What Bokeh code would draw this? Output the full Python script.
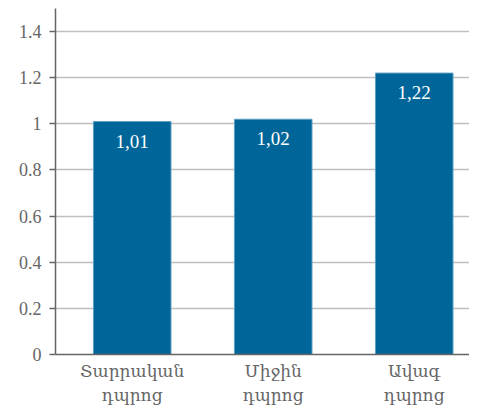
from bokeh.plotting import figure
from bokeh.models import ColumnDataSource, Range1d, FixedTicker, LabelSet
from bokeh.embed import file_html
from bokeh.resources import INLINE

categories = ["Տարրական\nդպրոց", "Միջին\nդպրոց", "Ավագ\nդպրոց"]
values = [1.01, 1.02, 1.22]
value_labels = ["1,01", "1,02", "1,22"]
y_ticks = [0, 0.2, 0.4, 0.6, 0.8, 1, 1.2, 1.4]
y_tick_labels = ["0", "0.2", "0.4", "0.6", "0.8", "1", "1.2", "1.4"]

xs = list(range(len(categories)))
src = ColumnDataSource(dict(x=xs, top=values, lab=value_labels))

FONT = "Liberation Serif, DejaVu Serif"
AFONT = "DejaVu Serif"
GRAY = "#666666"

p = figure(width=469, height=407, output_backend="svg", toolbar_location=None,
           x_range=Range1d(-0.544, 2.392), y_range=Range1d(0, 1.5),
           min_border_left=55, min_border_right=0, min_border_top=8, min_border_bottom=49)
p.outline_line_color = None
p.background_fill_color = "white"

p.vbar(x="x", top="top", width=0.55, source=src, fill_color="#006699",
       line_color="#5d9ec2", line_width=1)

p.add_layout(LabelSet(x="x", y="top", text="lab", source=src, text_color="white",
                      text_align="center", text_baseline="top", y_offset=-13,
                      text_font=FONT, text_font_size="19px"))

p.xgrid.grid_line_color = None
p.ygrid.grid_line_color = "#bfbfbf"
p.ygrid.grid_line_width = 1.5
p.ygrid.ticker = FixedTicker(ticks=y_ticks)

p.yaxis.ticker = FixedTicker(ticks=y_ticks)
p.yaxis.major_label_overrides = {t: l for t, l in zip(y_ticks, y_tick_labels)}
p.yaxis.axis_line_color = "#666666"
p.yaxis.axis_line_width = 1.5
p.yaxis.major_tick_line_color = "#666666"
p.yaxis.major_tick_line_width = 1.5
p.yaxis.major_tick_out = 6
p.yaxis.major_tick_in = 0
p.yaxis.minor_tick_line_color = None
p.yaxis.major_label_text_font = FONT
p.yaxis.major_label_text_font_size = "18px"
p.yaxis.major_label_text_color = GRAY
p.yaxis.major_label_standoff = 8

p.xaxis.ticker = FixedTicker(ticks=xs)
p.xaxis.major_label_overrides = {i: c for i, c in zip(xs, categories)}
p.xaxis.axis_line_color = "#666666"
p.xaxis.axis_line_width = 1.5
p.xaxis.major_tick_line_color = None
p.xaxis.major_tick_out = 0
p.xaxis.major_tick_in = 0
p.xaxis.minor_tick_line_color = None
p.xaxis.major_label_text_font = AFONT
p.xaxis.major_label_text_font_size = "17px"
p.xaxis.major_label_text_color = GRAY
p.xaxis.major_label_standoff = 6

open("out.html", "w").write(file_html(p, INLINE))
